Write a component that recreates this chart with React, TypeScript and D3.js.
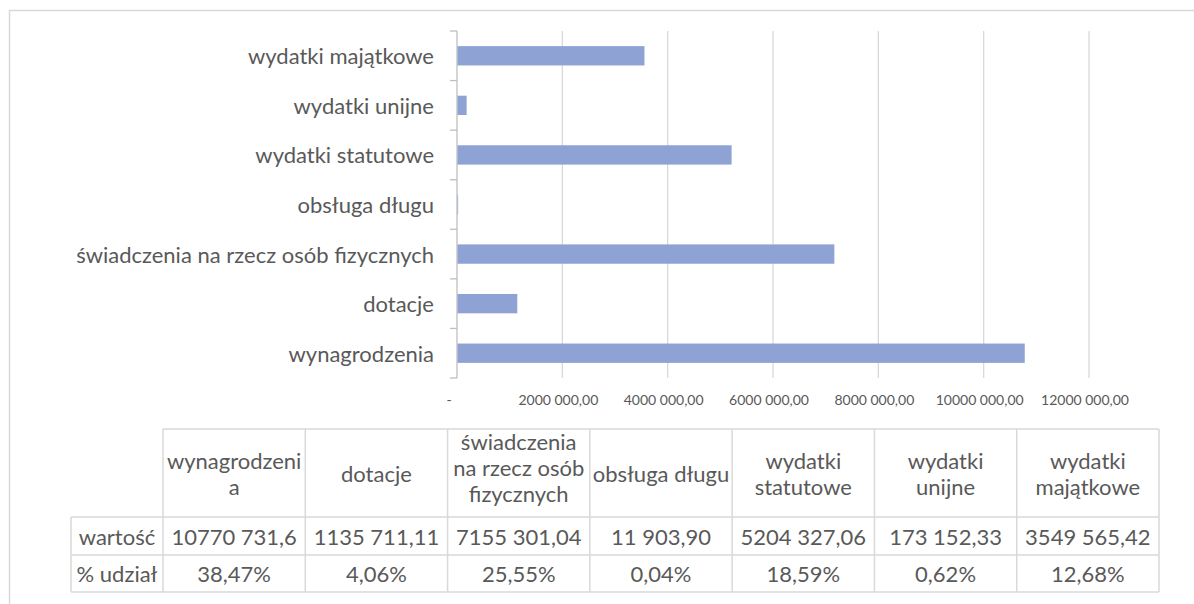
import React from "react";
import * as d3 from "d3";

const categories = [
  "wynagrodzenia",
  "dotacje",
  "świadczenia na rzecz osób fizycznych",
  "obsługa długu",
  "wydatki statutowe",
  "wydatki unijne",
  "wydatki majątkowe",
];
const values = [10770731.6, 1135711.11, 7155301.04, 11903.9, 5204327.06, 173152.33, 3549565.42];
const valueLabels = ["10770 731,6", "1135 711,11", "7155 301,04", "11 903,90", "5204 327,06", "173 152,33", "3549 565,42"];
const shareLabels = ["38,47%", "4,06%", "25,55%", "0,04%", "18,59%", "0,62%", "12,68%"];
const headerLines = [
  ["wynagrodzeni", "a"],
  ["dotacje"],
  ["świadczenia", "na rzecz osób", "fizycznych"],
  ["obsługa długu"],
  ["wydatki", "statutowe"],
  ["wydatki", "unijne"],
  ["wydatki", "majątkowe"],
];
const rowLabels = ["wartość", "% udział"];
const xTicks = [0, 2000000, 4000000, 6000000, 8000000, 10000000, 12000000];
const xTickLabels = ["-", "2000 000,00", "4000 000,00", "6000 000,00", "8000 000,00", "10000 000,00", "12000 000,00"];

const W = 1194;
const H = 604;
const FONT = "Lato, 'Open Sans', sans-serif";
const TEXT = "#595959";
const GRID = "#d9d9d9";
const BAR = "#8fa2d4";

export default function App() {
  const x = d3.scaleLinear().domain([0, 12000000]).range([457, 1089]);
  const y = d3.scaleBand<string>().domain([...categories].reverse()).range([31, 378]).padding(0);
  const bw = y.bandwidth();
  const barH = bw * 0.39;

  const col = d3.scaleBand<string>().domain(categories).range([163, 1159]);
  const rowLabelX0 = 71;
  const rowY = [429, 517, 555, 592];

  const boundaries = d3.range(categories.length + 1).map((i) => 31 + i * bw);

  return (
    <svg width={W} height={H} style={{ position: "absolute", left: 0, top: 0, background: "#fff" }} fontFamily={FONT}>
      <rect x={9.5} y={10.5} width={1300} height={700} fill="#fff" stroke={GRID} strokeWidth={1.5} />
      {/* gridlines */}
      {xTicks.slice(1).map((t) => (
        <line key={t} x1={x(t)} x2={x(t)} y1={31} y2={378} stroke={GRID} strokeWidth={1.3} />
      ))}
      {/* axis */}
      <line x1={x(0)} x2={x(0)} y1={31} y2={378} stroke="#bfbfbf" strokeWidth={1.3} />
      {boundaries.map((b, i) => (
        <line key={i} x1={x(0) - 7} x2={x(0)} y1={b} y2={b} stroke="#bfbfbf" strokeWidth={1.3} />
      ))}
      {/* bars */}
      {categories.map((c, i) => (
        <rect
          key={c}
          x={x(0) + 0.5}
          y={(y(c) as number) + (bw - barH) / 2}
          width={Math.max(0, x(values[i]) - x(0))}
          height={barH}
          fill={BAR}
        />
      ))}
      {/* category labels */}
      {categories.map((c) => (
        <text
          key={c}
          x={434}
          y={(y(c) as number) + bw / 2}
          textAnchor="end"
          dominantBaseline="central"
          fontSize={22}
          fill={TEXT}
        >
          {c}
        </text>
      ))}
      {/* x tick labels */}
      {xTicks.map((t, i) => (
        <text
          key={t}
          x={i === 0 ? x(t) - 8 : x(t) - 4}
          y={399}
          textAnchor="middle"
          dominantBaseline="central"
          fontSize={14}
          fill={TEXT}
        >
          {xTickLabels[i]}
        </text>
      ))}
      {/* table lines */}
      <line x1={163} x2={1159} y1={rowY[0]} y2={rowY[0]} stroke={GRID} strokeWidth={1.5} />
      {rowY.slice(1).map((ry) => (
        <line key={ry} x1={rowLabelX0} x2={1159} y1={ry} y2={ry} stroke={GRID} strokeWidth={1.5} />
      ))}
      <line x1={rowLabelX0} x2={rowLabelX0} y1={rowY[1]} y2={rowY[3]} stroke={GRID} strokeWidth={1.5} />
      {categories.map((c) => (
        <line key={c} x1={col(c)} x2={col(c)} y1={rowY[0]} y2={rowY[3]} stroke={GRID} strokeWidth={1.5} />
      ))}
      <line x1={1159} x2={1159} y1={rowY[0]} y2={rowY[3]} stroke={GRID} strokeWidth={1.5} />
      {/* header texts */}
      {categories.map((c, i) => {
        const lines = headerLines[i];
        const cx = (col(c) as number) + col.bandwidth() / 2;
        const cy = (rowY[0] + rowY[1]) / 2 - (lines.length === 3 ? 6 : 0);
        const lh = 26;
        return lines.map((ln, j) => (
          <text
            key={c + j}
            x={cx}
            y={cy + (j - (lines.length - 1) / 2) * lh}
            textAnchor="middle"
            dominantBaseline="central"
            fontSize={22}
            fill={TEXT}
          >
            {ln}
          </text>
        ));
      })}
      {/* row labels */}
      {rowLabels.map((r, k) => (
        <text
          key={r}
          x={(rowLabelX0 + 163) / 2}
          y={(rowY[k + 1] + rowY[k + 2]) / 2}
          textAnchor="middle"
          dominantBaseline="central"
          fontSize={22}
          fill={TEXT}
        >
          {r}
        </text>
      ))}
      {/* values */}
      {categories.map((c, i) => (
        <text
          key={"v" + c}
          x={(col(c) as number) + col.bandwidth() / 2}
          y={(rowY[1] + rowY[2]) / 2}
          textAnchor="middle"
          dominantBaseline="central"
          fontSize={22}
          fill={TEXT}
        >
          {valueLabels[i]}
        </text>
      ))}
      {categories.map((c, i) => (
        <text
          key={"s" + c}
          x={(col(c) as number) + col.bandwidth() / 2}
          y={(rowY[2] + rowY[3]) / 2}
          textAnchor="middle"
          dominantBaseline="central"
          fontSize={22}
          fill={TEXT}
        >
          {shareLabels[i]}
        </text>
      ))}
    </svg>
  );
}
